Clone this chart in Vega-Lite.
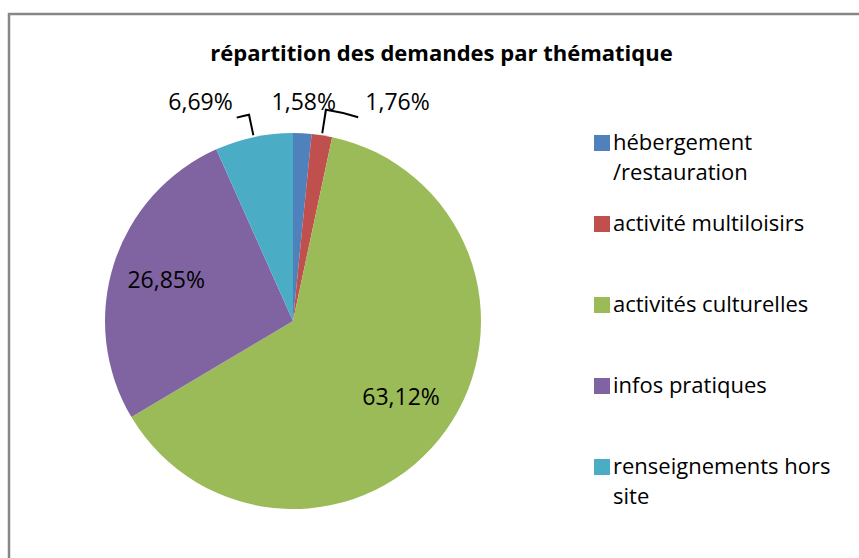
{
  "$schema": "https://vega.github.io/schema/vega-lite/v6.json",
  "width": 855,
  "height": 549,
  "autosize": "none",
  "padding": {"left": 9, "top": 14, "right": 0, "bottom": 0},
  "background": "white",
  "config": {
    "view": {"stroke": "#878787", "strokeWidth": 2.5},
    "style": {
      "view": {"stroke": "#878787", "strokeWidth": 2.5},
      "guide-label": {"lineHeight": 30}
    },
    "font": "Open Sans"
  },
  "title": {
    "text": "répartition des demandes par thématique",
    "font": "Open Sans",
    "fontSize": 22,
    "fontWeight": "bold",
    "color": "#000000",
    "anchor": "middle",
    "frame": "group",
    "baseline": "alphabetic",
    "offset": -69,
    "dx": 5
  },
  "data": {
    "values": [
      {"k": 1, "theme": "hébergement /restauration", "pct": 1.58, "label": "1,58%"},
      {"k": 2, "theme": "activité multiloisirs", "pct": 1.76, "label": "1,76%"},
      {"k": 3, "theme": "activités culturelles", "pct": 63.12, "label": "63,12%"},
      {"k": 4, "theme": "infos pratiques", "pct": 26.85, "label": "26,85%"},
      {"k": 5, "theme": "renseignements hors site", "pct": 6.69, "label": "6,69%"}
    ]
  },
  "transform": [
    {"stack": "pct", "groupby": [], "sort": [{"field": "k", "order": "ascending"}], "as": ["a0", "a1"]}
  ],
  "layer": [
    {
      "mark": {"type": "arc", "x": 284, "y": 307, "outerRadius": 188, "stroke": null},
      "encoding": {
        "theta": {"field": "a0", "type": "quantitative", "scale": {"domain": [0, 100]}},
        "theta2": {"field": "a1"},
        "color": {
          "field": "theme",
          "type": "nominal",
          "sort": ["hébergement /restauration", "activité multiloisirs", "activités culturelles", "infos pratiques", "renseignements hors site"],
          "scale": {
            "domain": ["hébergement /restauration", "activité multiloisirs", "activités culturelles", "infos pratiques", "renseignements hors site"],
            "range": ["#4F81BD", "#C0504D", "#9BBB59", "#8064A2", "#4BACC6"]
          },
          "legend": {
            "orient": "none",
            "legendX": 582,
            "legendY": 118,
            "title": null,
            "symbolType": "square",
            "symbolSize": 256,
            "symbolStrokeWidth": 0,
            "labelFont": "Open Sans",
            "labelFontSize": 22,
            "labelColor": "#000000",
            "labelOffset": 0,
            "labelLimit": 300,
            "labelBaseline": "middle",
            "gridAlign": "all",
            "rowPadding": 29,
            "labelExpr": "datum.label == 'hébergement /restauration' ? ['hébergement', '/restauration'] : datum.label == 'renseignements hors site' ? ['renseignements hors', 'site'] : datum.label"
          }
        }
      }
    },
    {
      "mark": {
        "type": "arc",
        "x": 284,
        "y": 307,
        "fill": "#000000",
        "stroke": null,
        "radius": 190,
        "radius2": {"expr": "datum.k == 2 ? 214 : 211"},
        "thetaOffset": {"expr": "datum.pct * PI / 100 - 0.005"},
        "theta2Offset": {"expr": "-datum.pct * PI / 100 + 0.005"},
        "opacity": {"expr": "datum.k == 2 || datum.k == 5 ? 1 : 0"}
      },
      "encoding": {
        "theta": {"field": "a0", "type": "quantitative"},
        "theta2": {"field": "a1"}
      }
    },
    {
      "mark": {
        "type": "arc",
        "x": 284,
        "y": 307,
        "fill": "#000000",
        "stroke": null,
        "radius": {"expr": "datum.k == 2 ? 213 : 210"},
        "radius2": {"expr": "datum.k == 2 ? 215 : 212"},
        "thetaOffset": {"expr": "datum.k == 2 ? datum.pct * PI / 100 - 0.005 : datum.pct * PI / 100 - 0.06"},
        "theta2Offset": {"expr": "datum.k == 2 ? -datum.pct * PI / 100 + 0.155 : -datum.pct * PI / 100 + 0.005"},
        "opacity": {"expr": "datum.k == 2 || datum.k == 5 ? 1 : 0"}
      },
      "encoding": {
        "theta": {"field": "a0", "type": "quantitative"},
        "theta2": {"field": "a1"}
      }
    },
    {
      "mark": {
        "type": "text",
        "x": 284,
        "y": 307,
        "font": "Open Sans",
        "fontSize": 23,
        "color": "#000000",
        "radius": {"expr": "datum.k == 3 || datum.k == 4 ? 133 : 218"},
        "dx": {"expr": "datum.k == 2 ? 71 : datum.k == 5 ? -47 : 0"},
        "dy": {"expr": "datum.k == 2 ? -3 : datum.k == 5 ? -5 : 0"}
      },
      "encoding": {
        "theta": {"field": "pct", "type": "quantitative", "stack": true},
        "order": {"field": "k", "type": "quantitative"},
        "text": {"field": "label", "type": "nominal"}
      }
    }
  ]
}
